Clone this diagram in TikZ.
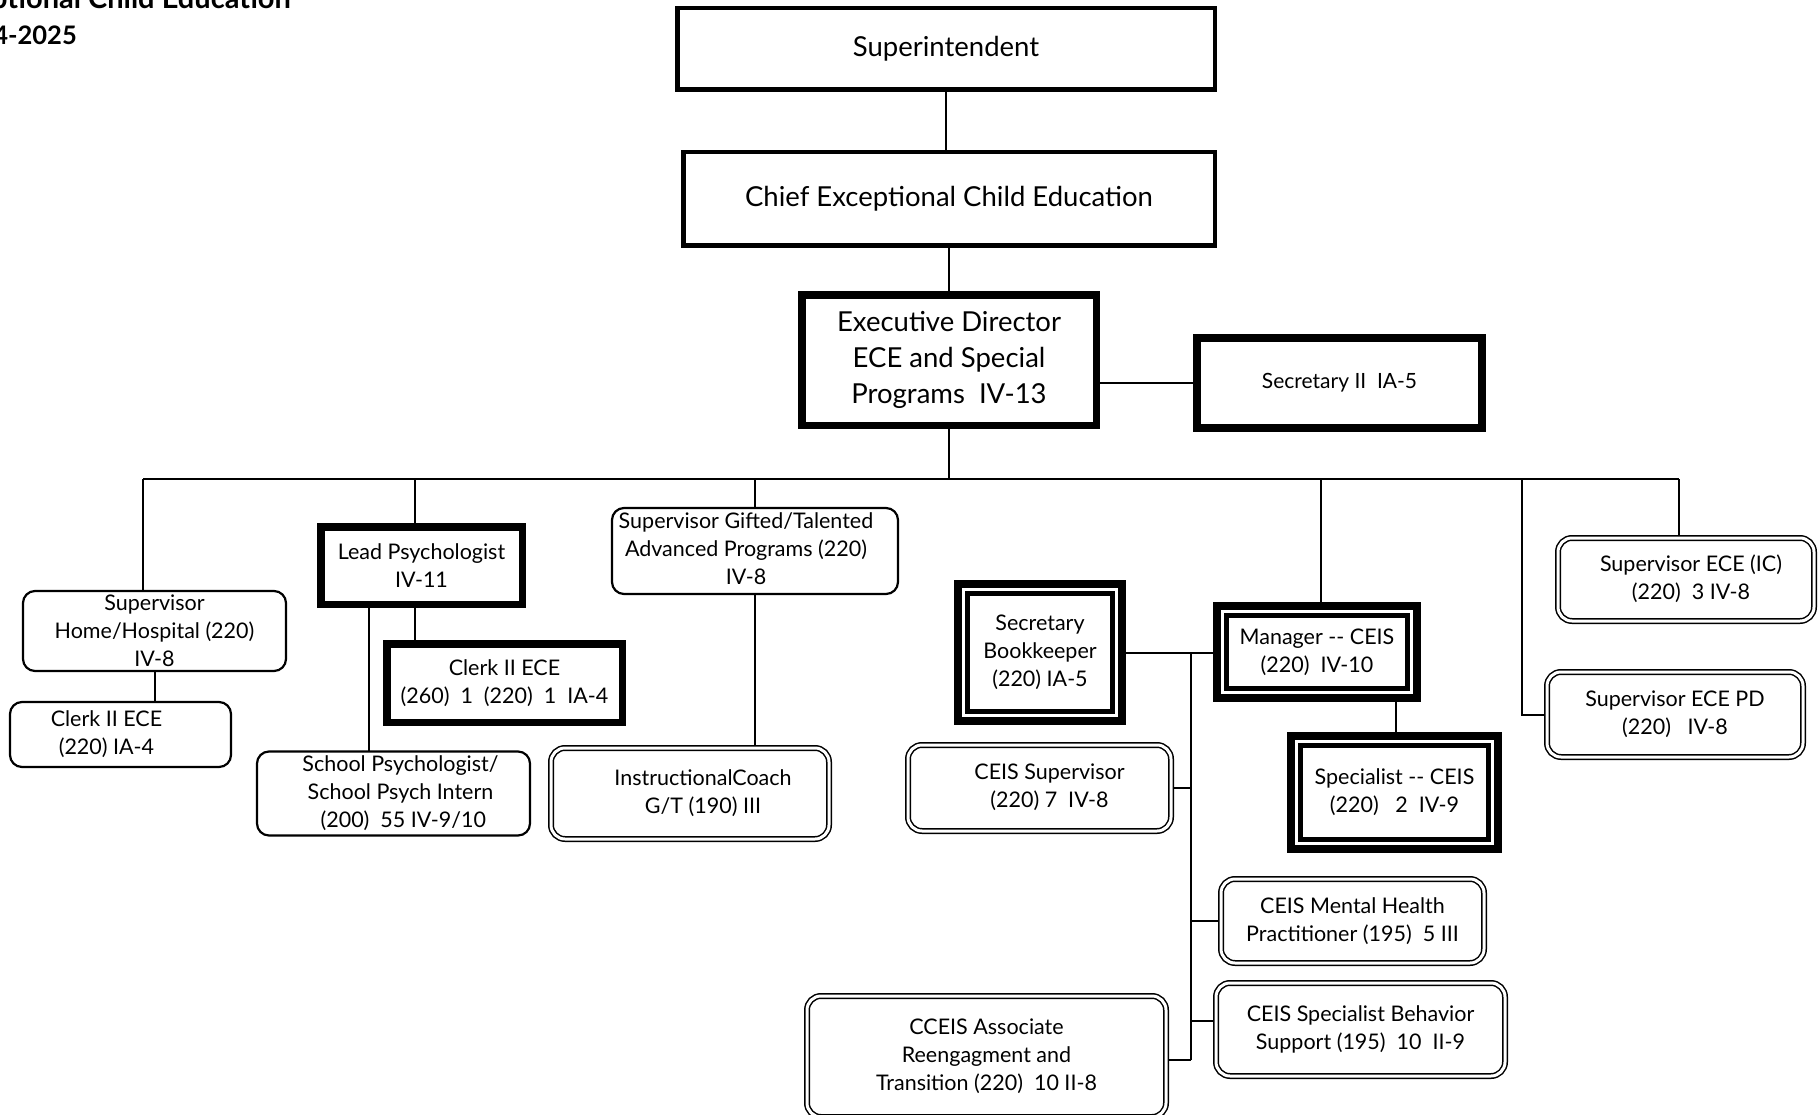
\documentclass[tikz,border=0pt]{standalone}
\usepackage{fontspec}
\setmainfont{Lato}
\usetikzlibrary{backgrounds}
\newcommand\txtleft[2]{\begin{tabular}{@{}c@{}}#2\end{tabular}\hspace*{#1}}
\newcommand\txtright[2]{\hspace*{#1}\begin{tabular}{@{}c@{}}#2\end{tabular}}
\begin{document}
\begin{tikzpicture}[x=1pt,y=-1pt,
  conn/.style={line width=2pt},
  bigtxt/.style={font=\fontsize{27.5}{36}\selectfont},
  smalltxt/.style={font=\fontsize{21.5}{28}\selectfont},
  basebox/.style={draw, fill=white, align=center, inner sep=0pt, outer sep=0pt, anchor=center},
  plainbox/.style={basebox, line width=4.5pt},
  heavybox/.style={basebox, line width=7.5pt},
  thinbox/.style={basebox, line width=2.2pt, rounded corners=12pt},
  dblbox/.style={basebox, double, double distance=3pt, line width=1.5pt, rounded corners=14pt},
  triplebox/.style={basebox, line width=8pt},
  innerline/.style={line width=5pt}
]
\clip (0,0) rectangle (1819,1115);
\useasboundingbox (0,0) rectangle (1819,1115);

% title (cut off at the page edge, as in the original)
\node[anchor=base east, font=\bfseries\fontsize{29}{30}\selectfont, inner sep=0pt] (title1) at (291,9) {Exceptional Child Education};
\node[anchor=base east, font=\bfseries\fontsize{25.5}{30}\selectfont, inner sep=0pt] (title2) at (77,45) {2024-2025};

% top chain
\node[plainbox, bigtxt, minimum width=537.5pt, minimum height=81.5pt] (sup) at (946,49) {Superintendent};
\node[plainbox, bigtxt, minimum width=531.5pt, minimum height=93.5pt] (chief) at (949,199) {Chief Exceptional Child Education};
\node[heavybox, bigtxt, minimum width=294.5pt, minimum height=130.5pt] (exec) at (949,360) {Executive Director\\ECE and Special\\Programs\ \ IV-13};
\node[basebox, line width=8pt, font=\fontsize{21}{24}\selectfont, minimum width=285pt, minimum height=90pt] (sec2) at (1339.5,383) {Secretary II\ \ IA-5};

% left group
\node[thinbox, smalltxt, minimum width=263pt, minimum height=80pt] (suphome) at (154.5,631) {Supervisor\\Home/Hospital (220)\\IV-8};
\node[thinbox, smalltxt, minimum width=221pt, minimum height=65pt] (clerk1) at (120.5,734.5) {\txtleft{28pt}{Clerk II ECE\\(220) IA-4}};
\node[heavybox, smalltxt, minimum width=201.5pt, minimum height=77.5pt] (leadpsy) at (421.5,565.5) {Lead Psychologist\\IV-11};
\node[heavybox, smalltxt, minimum width=235.5pt, minimum height=78.5pt] (clerk2) at (504.5,683) {Clerk II ECE\\(260)\ \ 1\ \ (220)\ \ 1\ \ IA-4};
\node[thinbox, smalltxt, minimum width=273pt, minimum height=81pt] (schpsy) at (393.5,793.5) {\txtright{14pt}{School Psychologist/\\School Psych Intern\\\ (200)\ \ 55 IV-9/10}};
\node[thinbox, smalltxt, minimum width=286pt, minimum height=86pt] (supgift) at (755,551) {\txtleft{18pt}{Supervisor Gifted/Talented\\Advanced Programs (220)\\IV-8}};
\node[dblbox, smalltxt, minimum width=278pt, minimum height=91pt] (instr) at (690,793.5) {\txtright{26pt}{InstructionalCoach\\G/T (190) III}};

% CEIS group
\node[triplebox, smalltxt, minimum width=164pt, minimum height=137pt] (secbk) at (1040,652.5) {Secretary\\Bookkeeper\\(220) IA-5};
\node[triplebox, smalltxt, minimum width=200pt, minimum height=92pt] (mgr) at (1317,652) {Manager -{}- CEIS\\(220)\ \ IV-10};
\node[triplebox, smalltxt, minimum width=207pt, minimum height=113pt] (spec) at (1394.5,792.5) {Specialist -{}- CEIS\\(220)\ \ \ 2\ \ IV-9};
\node[dblbox, smalltxt, minimum width=263pt, minimum height=86pt] (ceissup) at (1039.5,788) {\txtright{20pt}{CEIS Supervisor\\(220) 7\ \ IV-8}};
\node[dblbox, smalltxt, minimum width=263pt, minimum height=84pt] (ceismh) at (1352.5,921) {CEIS Mental Health\\Practitioner (195)\ \ 5 III};
\node[dblbox, smalltxt, minimum width=289pt, minimum height=93pt] (ceissb) at (1360.5,1029.5) {CEIS Specialist Behavior\\Support (195)\ \ 10\ \ II-9};
\node[dblbox, smalltxt, minimum width=359pt, minimum height=121pt] (cceis) at (986.5,1056.5) {CCEIS Associate\\Reengagment and\\Transition (220)\ \ 10 II-8};

% right group
\node[dblbox, smalltxt, minimum width=256pt, minimum height=83pt] (supic) at (1686,579.5) {\txtright{10pt}{Supervisor ECE (IC)\\(220)\ \ 3 IV-8}};
\node[dblbox, smalltxt, minimum width=256pt, minimum height=85pt] (suppd) at (1675,714.5) {Supervisor ECE PD\\(220)\ \ \ IV-8};

% inner lines of the triple boxes
\foreach \n in {secbk,mgr,spec}{
  \draw[innerline] ([shift={(9.5,9.5)}]\n.north west) rectangle ([shift={(-9.5,-9.5)}]\n.south east);
}

% connectors
\coordinate (busL) at (143,479);
\coordinate (busLP) at (415,479);
\coordinate (busM) at (1321,479);
\coordinate (busR) at (1679,479);
\coordinate (busPD) at (1522,479);
\coordinate (lpA) at (369,608);
\coordinate (lpB) at (415,608);
\coordinate (trunkTop) at (1191,653);
\coordinate (trunkBot) at (1191,1060);
\coordinate (sbJ) at (1191,1021);
\coordinate (msJ) at (1396,702);

\begin{scope}[on background layer]
\draw[conn] (sup.south) -- (sup.south |- chief.north);
\draw[conn] (chief.south) -- (chief.south |- exec.north);
\draw[conn] (sec2.west) -- (sec2.west -| exec.east);
\draw[conn] (exec.south) -- (exec.south |- busL);
\draw[conn] (busL) -- (busR);
\draw[conn] (busL) -- (busL |- suphome.north);
\draw[conn] (busLP) -- (busLP |- leadpsy.north);
\draw[conn] (supgift.north) -- (supgift.north |- busL);
\draw[conn] (busM) -- (busM |- mgr.north);
\draw[conn] (busPD) |- (suppd.west);
\draw[conn] (busR) -- (busR |- supic.north);
\draw[conn] (suphome.south) -- (suphome.south |- clerk1.north);
\draw[conn] (lpA) -- (lpA |- schpsy.north);
\draw[conn] (lpB) -- (lpB |- clerk2.north);
\draw[conn] (supgift.south) -- (supgift.south |- instr.north);
\draw[conn] (secbk.east) -- (secbk.east -| mgr.west);
\draw[conn] (trunkTop) -- (trunkBot);
\draw[conn] (ceissup.east) -- (ceissup.east -| trunkTop);
\draw[conn] (ceismh.west) -- (ceismh.west -| trunkTop);
\draw[conn] (sbJ) -- (sbJ -| ceissb.west);
\draw[conn] (trunkBot) -- (trunkBot -| cceis.east);
\draw[conn] (msJ) -- (msJ |- spec.north);
\end{scope}
\end{tikzpicture}
\end{document}
